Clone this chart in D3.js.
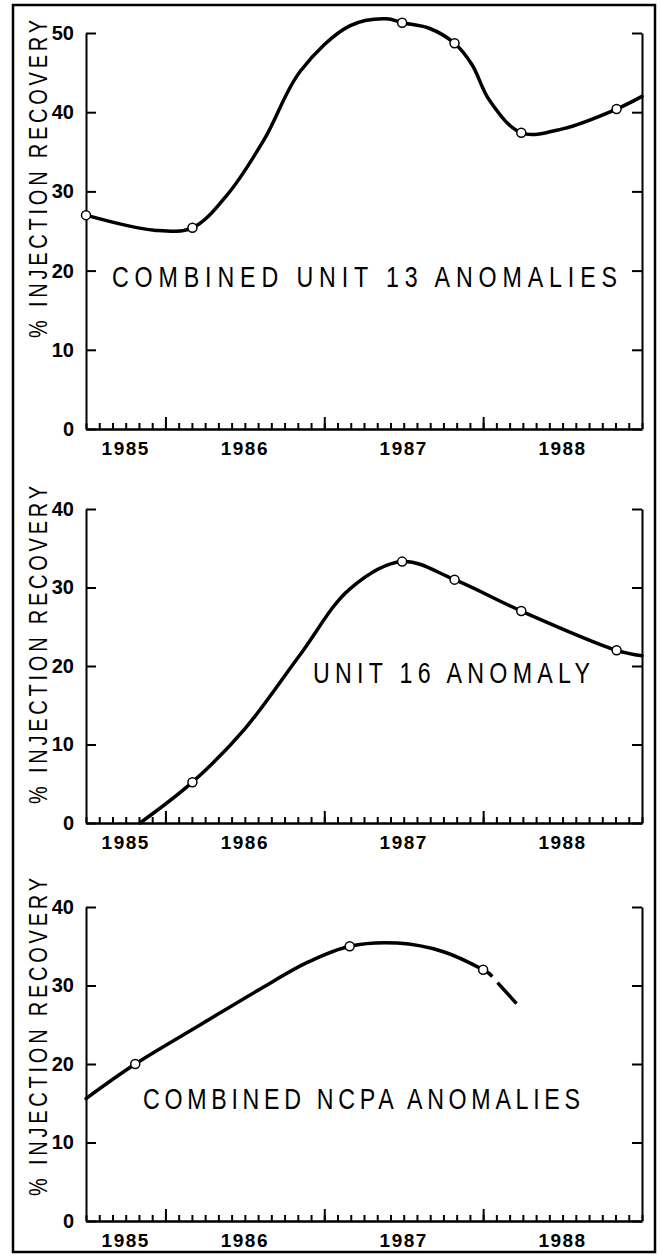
<!DOCTYPE html>
<html>
<head>
<meta charset="utf-8">
<script src="https://cdn.jsdelivr.net/npm/d3@7"></script>
<style>
  body { margin: 0; background: #fff; }
  svg { display: block; }
</style>
</head>
<body>
<div id="chart"></div>
<script>
// time in decimal years, values in % injection recovery
var yearLabels = ["1985", "1986", "1987", "1988"];
var yearLabelPos = [1985.75, 1986.5, 1987.5, 1988.5];
var yearTicks = [1986, 1987, 1988];

// Unit 13
var u13Curve = [[1985.5, 27.0], [1985.93, 25.1], [1986.17, 25.4], [1986.39, 29.6], [1986.62, 36.5],
    [1986.85, 45.2], [1987.16, 50.9], [1987.39, 51.8], [1987.49, 51.3],
    [1987.66, 50.6], [1987.82, 48.7], [1987.93, 46.0], [1988.04, 41.5],
    [1988.24, 37.4], [1988.5, 37.9], [1988.84, 40.4], [1989.0, 42.0]];
var u13Points = [[1985.5, 27.0], [1986.17, 25.4], [1987.49, 51.3], [1987.82, 48.7], [1988.24, 37.4], [1988.84, 40.4]];

// Unit 16
var u16Curve = [[1985.84, 0], [1986.17, 5.2], [1986.5, 12.0], [1986.85, 21.5], [1987.16, 29.8],
    [1987.49, 33.3], [1987.82, 31.0], [1988.24, 27.0], [1988.84, 22.0], [1989.0, 21.3]];
var u16Points = [[1986.17, 5.2], [1987.49, 33.3], [1987.82, 31.0], [1988.24, 27.0], [1988.84, 22.0]];

// NCPA
var ncpaCurve = [[1985.5, 15.6], [1985.81, 20.0], [1986.22, 25.0], [1986.6, 29.6], [1986.9, 33.0],
    [1987.16, 35.0], [1987.46, 35.4], [1987.75, 34.3], [1988.0, 32.0], [1988.04, 31.5]];
var ncpaProjected = [[1988.04, 31.5], [1988.21, 27.7]];
var ncpaPoints = [[1985.81, 20.0], [1987.16, 35.0], [1988.0, 32.0]];

var panels = [
    { title: "COMBINED UNIT 13 ANOMALIES", max: 50, top: 33, bottom: 429, curve: u13Curve, points: u13Points,
      titleX: 112, titleY: 287, titleLen: 505, labelY: 179 },
    { title: "UNIT 16 ANOMALY", max: 40, top: 509, bottom: 823, curve: u16Curve, points: u16Points,
      titleX: 313, titleY: 683, titleLen: 277, labelY: 645 },
    { title: "COMBINED NCPA ANOMALIES", max: 40, top: 907, bottom: 1221, curve: ncpaCurve, points: ncpaPoints,
      projected: ncpaProjected, titleX: 143, titleY: 1109, titleLen: 437, labelY: 1037 }
];

var width = 660, height = 1255;
var left = 86, right = 642;
var font = '"Liberation Sans", Arial, sans-serif';
var squeeze = 0.8; // narrow plotter-like lettering

var svg = d3.select('#chart').append('svg')
    .attr('width', width)
    .attr('height', height);

// outer frame
svg.append('rect')
    .attr('x', 13).attr('y', 5)
    .attr('width', 642).attr('height', 1247)
    .attr('fill', 'none')
    .attr('stroke', '#000')
    .attr('stroke-width', 2.5);

var x = d3.scaleLinear().domain([1985.5, 1989.0]).range([left, right]);
var months = d3.range(0, 43).map(function (i) { return 1985.5 + i / 12; });

panels.forEach(function (p) {
    var y = d3.scaleLinear().domain([0, p.max]).range([p.bottom, p.top]);
    var g = svg.append('g');
    var yTicks = d3.range(0, p.max + 1, 10);

    // left axis
    var la = g.append('g')
        .attr('transform', 'translate(' + left + ',0)')
        .call(d3.axisLeft(y).tickValues(yTicks).tickSize(-10).tickSizeOuter(0).tickPadding(12));
    la.selectAll('text')
        .attr('font-family', font)
        .attr('font-weight', 'bold')
        .attr('font-size', 20);

    // right axis
    g.append('g')
        .attr('transform', 'translate(' + right + ',0)')
        .call(d3.axisRight(y).tickValues(yTicks).tickSize(-10).tickSizeOuter(0).tickFormat(''));

    // bottom axis: monthly minor ticks, yearly major ticks
    g.append('g')
        .attr('transform', 'translate(0,' + p.bottom + ')')
        .call(d3.axisBottom(x).tickValues(months).tickSize(-6).tickSizeOuter(0).tickFormat(''));
    g.append('g')
        .attr('transform', 'translate(0,' + p.bottom + ')')
        .call(d3.axisBottom(x).tickValues(yearTicks).tickSize(-12).tickSizeOuter(0).tickFormat(''));

    g.selectAll('.domain, .tick line')
        .attr('stroke', '#000')
        .attr('stroke-width', 2);

    g.selectAll('.yearlab')
        .data(yearLabels)
        .enter()
        .append('text')
        .attr('x', function (d, i) { return x(yearLabelPos[i]); })
        .attr('y', p.bottom + 26)
        .attr('text-anchor', 'middle')
        .attr('font-family', font)
        .attr('font-weight', 'bold')
        .attr('font-size', 19)
        .attr('letter-spacing', 1.5)
        .text(function (d) { return d; });

    // y axis label
    g.append('text')
        .attr('transform', 'translate(47,' + p.labelY + ') rotate(-90) scale(' + squeeze + ',1)')
        .attr('text-anchor', 'middle')
        .attr('font-family', font)
        .attr('font-size', 25)
        .attr('textLength', 318 / squeeze)
        .attr('lengthAdjust', 'spacing')
        .text('% INJECTION RECOVERY');

    // panel title
    g.append('text')
        .attr('transform', 'translate(' + p.titleX + ',' + p.titleY + ') scale(' + squeeze + ',1)')
        .attr('font-family', font)
        .attr('font-size', 29)
        .attr('textLength', p.titleLen / squeeze)
        .attr('lengthAdjust', 'spacing')
        .text(p.title);

    var line = d3.line()
        .x(function (d) { return x(d[0]); })
        .y(function (d) { return y(d[1]); })
        .curve(d3.curveCatmullRom.alpha(0.5));

    g.append('path')
        .attr('d', line(p.curve))
        .attr('fill', 'none')
        .attr('stroke', '#000')
        .attr('stroke-width', 3.5)
        .attr('stroke-linecap', 'round');

    if (p.projected) {
        g.append('path')
            .attr('d', d3.line().x(function (d) { return x(d[0]); }).y(function (d) { return y(d[1]); })(p.projected))
            .attr('fill', 'none')
            .attr('stroke', '#000')
            .attr('stroke-width', 3.5)
            .attr('stroke-dasharray', '4,8,40');
    }

    g.selectAll('circle')
        .data(p.points)
        .enter()
        .append('circle')
        .attr('cx', function (d) { return x(d[0]); })
        .attr('cy', function (d) { return y(d[1]); })
        .attr('r', 4.5)
        .attr('fill', '#fff')
        .attr('stroke', '#000')
        .attr('stroke-width', 1.5);
});
</script>
</body>
</html>
